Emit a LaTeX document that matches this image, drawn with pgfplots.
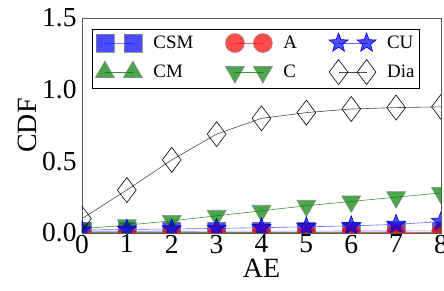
\documentclass[border=0pt]{standalone}
\usepackage{pgfplots}
\pgfplotsset{compat=1.18}
\usepackage{fontspec}
\setmainfont{Liberation Serif}
\usetikzlibrary{plotmarks}
\definecolor{cblue}{RGB}{0,0,255}
\definecolor{cred}{RGB}{255,0,0}
\definecolor{cgreen}{RGB}{0,128,0}
\newcommand{\tf}{\fontsize{23}{23}\selectfont}
\pgfdeclareplotmark{fstar}{%
  \pgfpathmoveto{\pgfqpointpolar{90}{\pgfplotmarksize}}%
  \pgfpathlineto{\pgfqpointpolar{126}{0.42\pgfplotmarksize}}%
  \pgfpathlineto{\pgfqpointpolar{162}{\pgfplotmarksize}}%
  \pgfpathlineto{\pgfqpointpolar{198}{0.42\pgfplotmarksize}}%
  \pgfpathlineto{\pgfqpointpolar{234}{\pgfplotmarksize}}%
  \pgfpathlineto{\pgfqpointpolar{270}{0.42\pgfplotmarksize}}%
  \pgfpathlineto{\pgfqpointpolar{306}{\pgfplotmarksize}}%
  \pgfpathlineto{\pgfqpointpolar{342}{0.42\pgfplotmarksize}}%
  \pgfpathlineto{\pgfqpointpolar{18}{\pgfplotmarksize}}%
  \pgfpathlineto{\pgfqpointpolar{54}{0.42\pgfplotmarksize}}%
  \pgfpathclose
  \pgfusepathqfillstroke}
\begin{document}
\begin{tikzpicture}
\begin{axis}[
  at={(0,0)}, anchor=south west,
  width=359bp, height=215bp, scale only axis,
  xmin=0, xmax=8, ymin=0, ymax=1.5,
  xtick={0,1,...,8}, ytick={0,0.5,1.0,1.5},
  xticklabels={{\tf 0},{\tf 1},{\tf 2},{\tf 3},{\tf 4},{\tf 5},{\tf 6},{\tf 7},{\tf 8}},
  yticklabels={{\tf 0.0},{\tf 0.5},{\tf 1.0},{\tf 1.5}},
  major tick length=0pt,
  xticklabel style={scale=1.2, yshift=2bp},
  yticklabel style={scale=1.2, xshift=-1bp},
  xlabel={AE}, ylabel={CDF},
  label style={font=\fontsize{28}{28}\selectfont},
  xlabel style={yshift=2bp},
  ylabel style={yshift=-2bp},
  axis line style={gray!70!black, line width=0.9bp},
  clip marker paths=true,
  legend columns=2, transpose legend,
  legend style={at={(0.028,0.95)}, anchor=north west, font=\fontsize{19}{19}\selectfont,
    draw=black, line width=0.6bp, inner xsep=3bp, inner ysep=4bp,
    /tikz/every odd column/.append style={column sep=9bp},
    /tikz/every even column/.append style={column sep=30bp},
    row sep=7bp},
  legend cell align=left,
  legend image code/.code={\draw[#1, mark repeat=1] plot coordinates {(0bp,0bp) (28bp,0bp)};},
  every axis plot/.append style={line width=0.6bp},
]
\addplot[color=cblue!50, mark=square*, mark size=9bp, mark options={fill=cblue, fill opacity=0.7, draw=gray, draw opacity=0.8}]
  coordinates {(0,0.012)(1,0.012)(2,0.012)(3,0.013)(4,0.013)(5,0.013)(6,0.014)(7,0.014)(8,0.015)};
\addlegendentry{CSM}
\addplot[color=cgreen!80, mark=triangle*, mark size=11bp, mark options={fill=cgreen, fill opacity=0.7, draw=gray, draw opacity=0.8}]
  coordinates {(0,0.002)(1,0.002)(2,0.002)(3,0.002)(4,0.002)(5,0.002)(6,0.002)(7,0.002)(8,0.002)};
\addlegendentry{CM}
\addplot[color=cred!60, mark=*, mark size=9.5bp, mark options={fill=cred, fill opacity=0.7, draw=gray, draw opacity=0.8}]
  coordinates {(0,0.0)(1,0.0)(2,0.0)(3,0.0)(4,0.001)(5,0.001)(6,0.002)(7,0.003)(8,0.005)};
\addlegendentry{A}
\addplot[color=cgreen!80, mark=triangle*, mark size=11bp, mark options={rotate=180, fill=cgreen, fill opacity=0.7, draw=gray, draw opacity=0.8}]
  coordinates {(0,0.03)(1,0.055)(2,0.085)(3,0.12)(4,0.155)(5,0.19)(6,0.22)(7,0.25)(8,0.28)};
\addlegendentry{C}
\addplot[color=cblue!60, mark=fstar, mark size=10bp, mark options={draw=cblue!80!black, fill=cblue, fill opacity=0.7}]
  coordinates {(0,0.02)(1,0.025)(2,0.028)(3,0.032)(4,0.037)(5,0.043)(6,0.05)(7,0.06)(8,0.08)};
\addlegendentry{CU}
\addplot[color=black!70, mark=diamond, mark size=12.5bp, mark options={draw=black, fill=white, fill opacity=0}]
  coordinates {(0,0.10)(1,0.30)(2,0.51)(3,0.69)(4,0.80)(5,0.84)(6,0.865)(7,0.875)(8,0.88)};
\addlegendentry{Dia}
\end{axis}
\pgfresetboundingbox
\path[use as bounding box] (-82bp,-58bp) rectangle (362bp,233bp);
\end{tikzpicture}
\end{document}
